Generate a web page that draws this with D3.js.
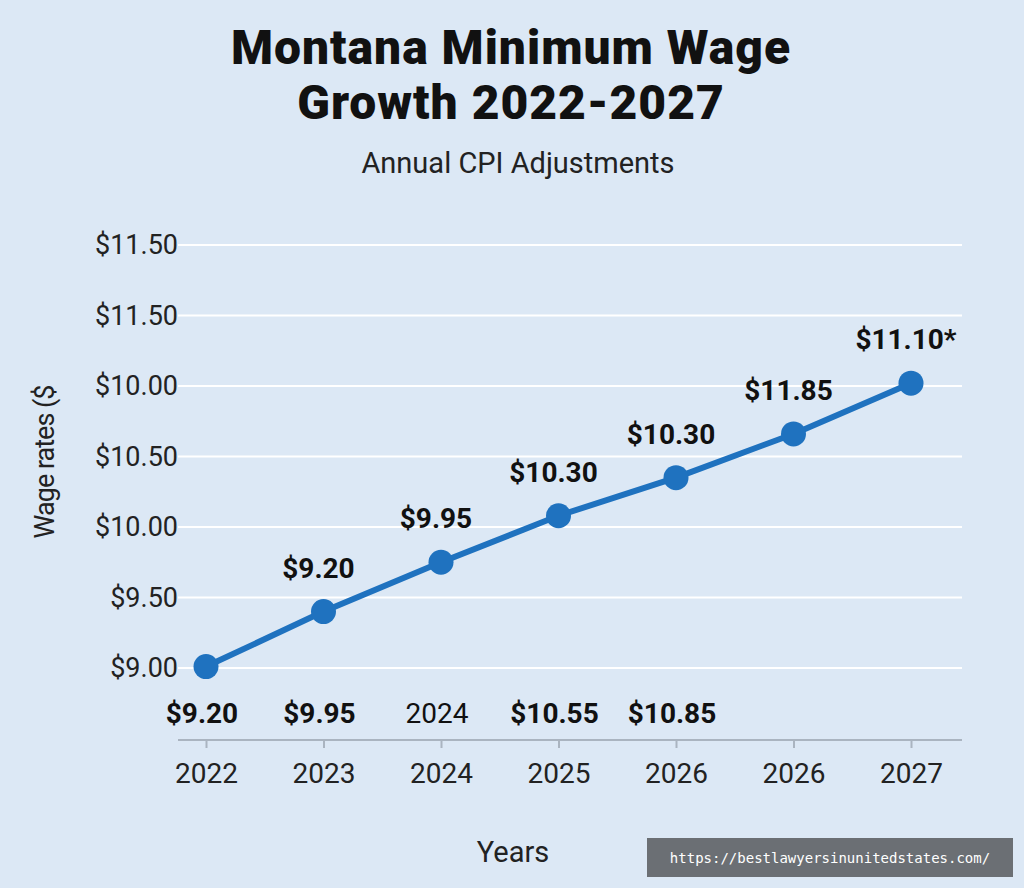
<!DOCTYPE html>
<html><head><meta charset="utf-8">
<script src="https://cdn.jsdelivr.net/npm/d3@7"></script>
<style>body{margin:0;background:#dce8f5}</style>
</head><body>
<svg id="chart" width="1024" height="888"></svg>
<script>
const years = ["2022","2023","2024","2025","2026","2026","2027"]
const wages = [9.01, 9.40, 9.75, 10.08, 10.35, 10.66, 11.02]
const topLabels = ["", "$9.20", "$9.95", "$10.30", "$10.30", "$11.85", "$11.10*"]
const bottomLabels = ["$9.20", "$9.95", "2024", "$10.55", "$10.85", "", ""]
const gridValues = [9.0, 9.5, 10.0, 10.5, 11.0, 11.5, 12.0]
const gridLabels = ["$9.00", "$9.50", "$10.00", "$10.50", "$10.00", "$11.50", "$11.50"]

const svg = d3.select("#chart")
const font = "Roboto, 'Noto Sans', sans-serif"
svg.append("rect").attr("width", 1024).attr("height", 888).attr("fill", "#dce8f5")

const x = d3.scalePoint().domain(d3.range(years.length)).range([206, 911])
const y = d3.scaleLinear().domain([9.0, 12.0]).range([668, 245])

// title
svg.append("text").attr("x", 511).attr("y", 64).attr("text-anchor", "middle")
  .attr("font-family", font).attr("font-weight", 900).attr("font-size", 48).attr("fill", "#111")
  .attr("letter-spacing", 1).text("Montana Minimum Wage")
svg.append("text").attr("x", 511).attr("y", 119).attr("text-anchor", "middle")
  .attr("font-family", font).attr("font-weight", 900).attr("font-size", 48).attr("fill", "#111")
  .attr("letter-spacing", 1).text("Growth 2022-2027")
svg.append("text").attr("x", 518).attr("y", 173).attr("text-anchor", "middle")
  .attr("font-family", font).attr("font-size", 29).attr("fill", "#222")
  .text("Annual CPI Adjustments")

// grid
svg.selectAll(".grid").data(gridValues).join("line")
  .attr("x1", 178).attr("x2", 962)
  .attr("y1", d => y(d)).attr("y2", d => y(d))
  .attr("stroke", "#fff").attr("stroke-width", 2)
svg.selectAll(".glab").data(gridValues).join("text")
  .attr("x", 178).attr("y", d => y(d) + 9).attr("text-anchor", "end")
  .attr("font-family", font).attr("font-size", 27).attr("fill", "#222")
  .text((d, i) => gridLabels[i])

svg.append("text").attr("transform", "translate(54,462) rotate(-90)")
  .attr("text-anchor", "middle").attr("font-family", font).attr("font-size", 27).attr("fill", "#222")
  .attr("letter-spacing", -1).text("Wage rates ($")

// x axis
const xAxis = d3.axisBottom(x).tickSize(8).tickFormat(i => years[i])
const gx = svg.append("g").attr("transform", "translate(0,740)").call(xAxis)
gx.select(".domain").attr("d", "M178,0H962").attr("stroke", "#aab4c0").attr("stroke-width", 2)
gx.selectAll(".tick line").attr("stroke", "#aab4c0").attr("stroke-width", 2)
gx.selectAll(".tick text").attr("font-family", font).attr("font-size", 28).attr("fill", "#222").attr("dy", 32)

svg.append("text").attr("x", 513).attr("y", 862).attr("text-anchor", "middle")
  .attr("font-family", font).attr("font-size", 29).attr("fill", "#222").text("Years")

// line and points
const line = d3.line().x((d, i) => x(i)).y(d => y(d))
svg.append("path").attr("d", line(wages)).attr("fill", "none")
  .attr("stroke", "#1f72bf").attr("stroke-width", 6)
svg.selectAll(".pt").data(wages).join("circle")
  .attr("cx", (d, i) => x(i)).attr("cy", d => y(d)).attr("r", 12.5).attr("fill", "#1f72bf")

svg.selectAll(".tl").data(wages).join("text")
  .attr("x", (d, i) => x(i) - 5).attr("y", d => y(d) - 34).attr("text-anchor", "middle")
  .attr("font-family", font).attr("font-weight", 700).attr("font-size", 28).attr("fill", "#111")
  .text((d, i) => topLabels[i])
svg.selectAll(".bl").data(bottomLabels).join("text")
  .attr("x", (d, i) => x(i) - 4).attr("y", 723).attr("text-anchor", "middle")
  .attr("font-family", font).attr("font-weight", (d, i) => i === 2 ? 400 : 700)
  .attr("font-size", 28).attr("fill", "#111")
  .text(d => d)

// watermark
svg.append("rect").attr("x", 647).attr("y", 838).attr("width", 366).attr("height", 39).attr("fill", "#6b6f74")
svg.append("text").attr("x", 830).attr("y", 863).attr("text-anchor", "middle")
  .attr("font-family", "'DejaVu Sans Mono', monospace").attr("font-size", 14).attr("fill", "#fff")
  .text("https://bestlawyersinunitedstates.com/")
</script>
</body></html>
